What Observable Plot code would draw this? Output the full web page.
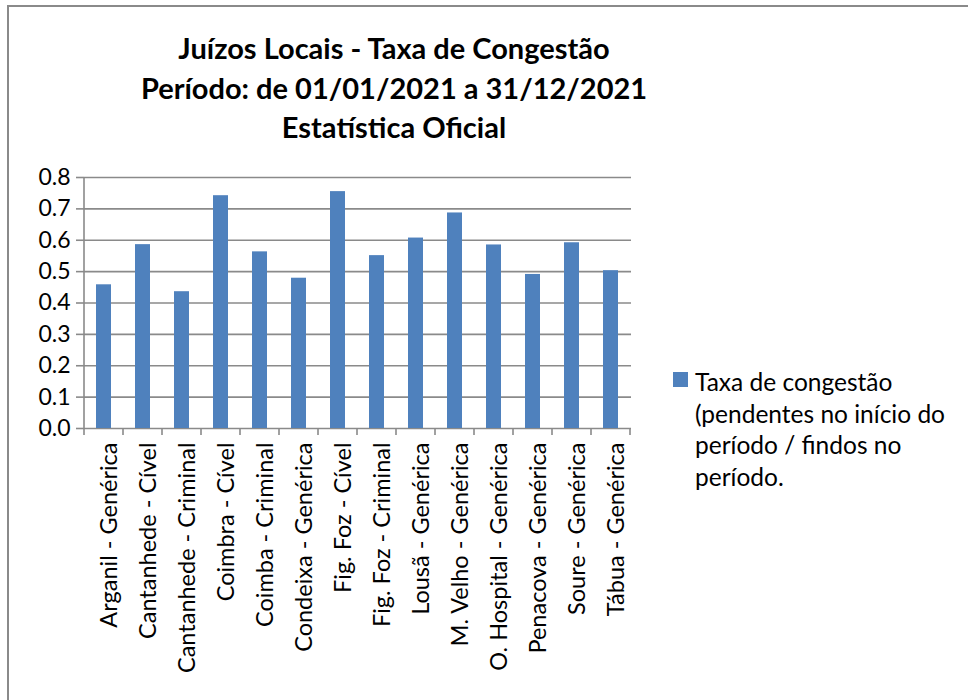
<!DOCTYPE html>
<html>
<head>
<meta charset="utf-8">
<script src="https://cdn.jsdelivr.net/npm/d3@7"></script>
<script src="https://cdn.jsdelivr.net/npm/@observablehq/plot@0.6"></script>
<style>
  html, body { margin: 0; padding: 0; background: #fff; }
  #wrap { position: relative; width: 968px; height: 700px; overflow: hidden; font-family: Lato, "Open Sans", sans-serif; }
  #frame { position: absolute; left: 7px; top: 5px; width: 980px; height: 720px; border-left: 2px solid #8a8a8a; border-top: 2px solid #8a8a8a; }
  #title { position: absolute; left: 44px; width: 700px; top: 28px; text-align: center; font-weight: bold; font-size: 29px; line-height: 39.5px; color: #000; }
  #legend { position: absolute; left: 673px; top: 366px; font-size: 24.5px; line-height: 31.5px; color: #000; }
  #legend .sw { position: absolute; left: 0; top: 6px; width: 15px; height: 15px; background: #4F81BD; }
  #legend .tx { margin-left: 22px; width: 290px; }
  #chart { position: absolute; left: 0; top: 0; }
</style>
</head>
<body>
<div id="wrap">
  <div id="frame"></div>
  <div id="chart"></div>
  <div id="title">Juízos Locais - Taxa de Congestão<br>Período: de 01/01/2021 a 31/12/2021<br>Estatística Oficial</div>
  <div id="legend"><div class="sw"></div><div class="tx">Taxa de congestão<br>(pendentes no início do<br>período / findos no<br>período.</div></div>
</div>
<script>
const categories = [
  "Arganil - Genérica",
  "Cantanhede - Cível",
  "Cantanhede - Criminal",
  "Coimbra - Cível",
  "Coimba - Criminal",
  "Condeixa - Genérica",
  "Fig. Foz - Cível",
  "Fig. Foz - Criminal",
  "Lousã - Genérica",
  "M. Velho - Genérica",
  "O. Hospital - Genérica",
  "Penacova - Genérica",
  "Soure - Genérica",
  "Tábua - Genérica"
];
const values = [0.458, 0.586, 0.436, 0.742, 0.563, 0.479, 0.755, 0.551, 0.607, 0.687, 0.585, 0.491, 0.592, 0.503];
const yTicks = [0, 0.1, 0.2, 0.3, 0.4, 0.5, 0.6, 0.7, 0.8];

const data = categories.map((c, i) => ({category: c, value: values[i]}));

const plot = Plot.plot({
  width: 968,
  height: 700,
  marginLeft: 84,
  marginRight: 337,
  marginTop: 177,
  marginBottom: 272,
  style: {fontFamily: "Lato, 'Open Sans', sans-serif", background: "transparent", overflow: "visible"},
  x: {domain: categories, paddingInner: 0.61, paddingOuter: 0.305, align: 0.5, label: null, axis: null},
  y: {domain: [0, 0.8], ticks: yTicks, label: null, axis: null},
  marks: [
    Plot.ruleY(yTicks, {stroke: "#8a8a8a", strokeWidth: 1.6}),
    Plot.barY(data, {x: "category", y: "value", fill: "#4F81BD"}),
    Plot.axisY(yTicks, {tickSize: 8, tickPadding: 6, stroke: "#8a8a8a", strokeWidth: 1.6, strokeOpacity: 1, fontSize: 23, fill: "#000", tickFormat: d3.format(".1f")}),
    Plot.axisX(categories, {tickSize: 0, rotate: -90, textAnchor: "end", tickPadding: 14, dx: -4, fontSize: 23.5, fill: "#000"})
  ]
});
document.getElementById("chart").appendChild(plot);

// left axis line and category boundary tick marks (band edges) via the scales
const xs = plot.scale("x");
const ys = plot.scale("y");
const svg = d3.select(plot);
const step = xs.step;
const gap = (step - xs.bandwidth) / 2;
const edges = categories.map(c => xs.apply(c) - gap).concat([xs.apply(categories[categories.length - 1]) + xs.bandwidth + gap]);
const y0 = ys.apply(0);
const y1 = ys.apply(0.8);
svg.append("line")
  .attr("x1", edges[0]).attr("x2", edges[0])
  .attr("y1", y1).attr("y2", y0)
  .attr("stroke", "#8a8a8a").attr("stroke-width", 1.6);
svg.append("g").selectAll("line").data(edges).join("line")
  .attr("x1", d => d).attr("x2", d => d)
  .attr("y1", y0).attr("y2", y0 + 7)
  .attr("stroke", "#8a8a8a").attr("stroke-width", 1.6);
</script>
</body>
</html>
